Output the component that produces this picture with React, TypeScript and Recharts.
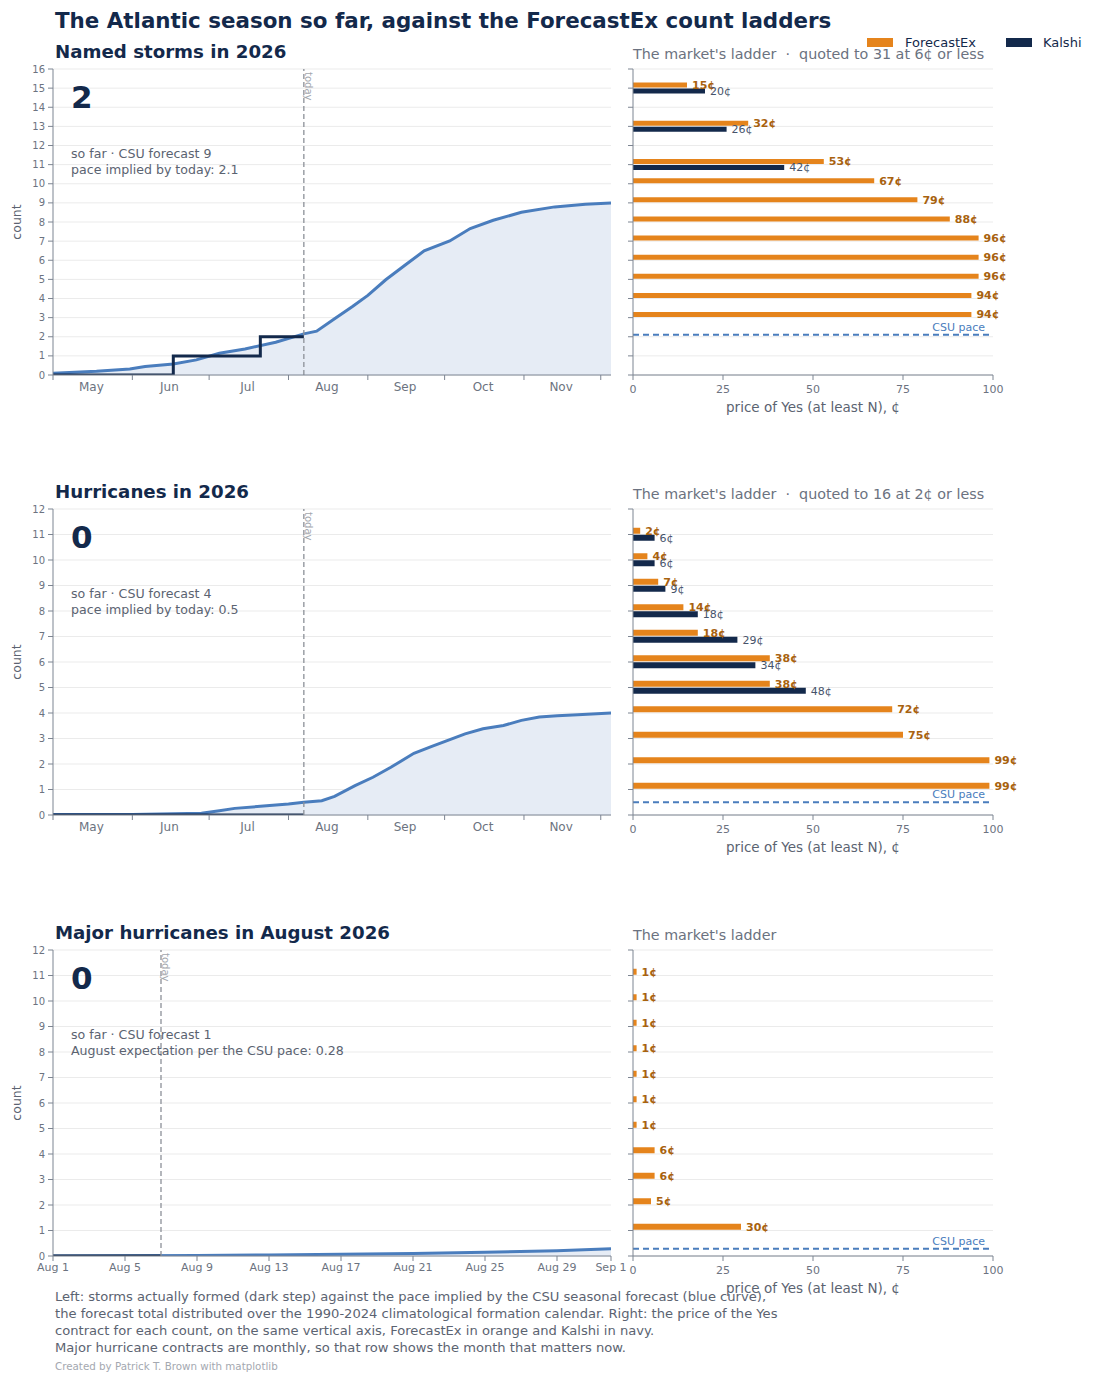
import React from "react";
import {
  ComposedChart,
  BarChart,
  Area,
  Line,
  Bar,
  LabelList,
  XAxis,
  YAxis,
  CartesianGrid,
  ReferenceLine,
} from "recharts";

const FONT = "'DejaVu Sans', Verdana, sans-serif";
const NAVY = "#13294b";
const ORANGE = "#e5841c";
const ORANGE_TEXT = "#a8620f";
const BLUE = "#4a7dbd";
const FILL = "#e6ecf5";
const GRID = "#ebebeb";
const AXIS = "#7d8592";
const TICK = "#6c7380";
const NOTE = "#5b6371";

// season axis: day 0 = May 1
const SEASON_TICKS = [0, 31, 61, 92, 123, 153, 184, 214];
const SEASON_MIDS = [15, 45.5, 76, 107, 137.5, 168, 198.5];
const SEASON_MONTHS = ["May", "Jun", "Jul", "Aug", "Sep", "Oct", "Nov"];
const SEASON_END = 218;
const TODAY_SEASON = 98;

// August axis: day 0 = Aug 1
const AUG_TICKS = [0, 4, 8, 12, 16, 20, 24, 28, 31];
const AUG_LABELS = ["Aug 1", "Aug 5", "Aug 9", "Aug 13", "Aug 17", "Aug 21", "Aug 25", "Aug 29", "Sep 1"];
const TODAY_AUG = 6;

// named storms
const stormDays = [0, 17, 30, 36, 47, 56, 65, 75, 87, 98, 103, 110, 117, 123, 130, 138, 145, 155, 163, 172, 183, 196, 208, 218];
const stormPace = [0.09, 0.19, 0.31, 0.44, 0.58, 0.79, 1.14, 1.36, 1.71, 2.15, 2.29, 2.94, 3.58, 4.16, 4.98, 5.79, 6.49, 7.01, 7.66, 8.09, 8.51, 8.79, 8.93, 9.0];
const stormActualDays = [0, 47, 81, 98];
const stormActual = [0, 1, 2, 2];
const stormCounts = [15, 13, 11, 10, 9, 8, 7, 6, 5, 4, 3];
const stormFx = [15, 32, 53, 67, 79, 88, 96, 96, 96, 94, 94];
const stormKalshi = [20, 26, 42, null, null, null, null, null, null, null, null];

// hurricanes
const hurrDays = [0, 31, 58, 65, 71, 81, 92, 98, 105, 110, 118, 125, 132, 141, 148, 154, 161, 168, 176, 183, 190, 197, 205, 218];
const hurrPace = [0.02, 0.02, 0.07, 0.17, 0.26, 0.34, 0.43, 0.5, 0.56, 0.73, 1.15, 1.48, 1.87, 2.42, 2.69, 2.92, 3.18, 3.38, 3.51, 3.71, 3.84, 3.89, 3.93, 4.0];
const hurrActualDays = [0, 98];
const hurrActual = [0, 0];
const hurrCounts = [11, 10, 9, 8, 7, 6, 5, 4, 3, 2, 1];
const hurrFx = [2, 4, 7, 14, 18, 38, 38, 72, 75, 99, 99];
const hurrKalshi = [6, 6, 9, 18, 29, 34, 48, null, null, null, null];

// major hurricanes, August
const majorDays = [0, 4, 8, 12, 16, 20, 24, 28, 31];
const majorPace = [0.0, 0.01, 0.02, 0.04, 0.07, 0.1, 0.15, 0.21, 0.28];
const majorActualDays = [0, 6];
const majorActual = [0, 0];
const majorCounts = [11, 10, 9, 8, 7, 6, 5, 4, 3, 2, 1];
const majorFx = [1, 1, 1, 1, 1, 1, 1, 6, 6, 5, 30];
const majorKalshi = [null, null, null, null, null, null, null, null, null, null, null];

const FOOTER = [
  "Left: storms actually formed (dark step) against the pace implied by the CSU seasonal forecast (blue curve),",
  "the forecast total distributed over the 1990-2024 climatological formation calendar. Right: the price of the Yes",
  "contract for each count, on the same vertical axis, ForecastEx in orange and Kalshi in navy.",
  "Major hurricane contracts are monthly, so that row shows the month that matters now.",
];

function paceRows(days: number[], pace: number[], actDays: number[], actual: number[]) {
  const map = new Map<number, any>();
  days.forEach((d, i) => map.set(d, { day: d, pace: pace[i] }));
  actDays.forEach((d, i) => {
    const r = map.get(d) || { day: d };
    r.actual = actual[i];
    map.set(d, r);
  });
  return [...map.values()].sort((a, b) => a.day - b.day);
}

function ladderRows(counts: number[], fx: (number | null)[], k: (number | null)[]) {
  return counts.map((n, i) => ({ n, fx: fx[i], k: k[i] }));
}

const range = (n: number) => Array.from({ length: n + 1 }, (_, i) => i);
const cents = (v: any) => (v == null ? "" : `${v}¢`);

const PLOT_W = 558;
const PLOT_H = 306;

// month names sit in the middle of each month, between the tick marks
const MonthTick = (props: any) => {
  const { x, y, payload } = props;
  const i = SEASON_TICKS.indexOf(payload.value);
  if (i < 0 || i >= SEASON_MONTHS.length) return null;
  const shift = ((SEASON_MIDS[i] - payload.value) * PLOT_W) / SEASON_END;
  return (
    <text x={x + shift} y={y} dy={10} textAnchor="middle" fontSize={12} fill={TICK} fontFamily={FONT}>
      {SEASON_MONTHS[i]}
    </text>
  );
};

const TodayLabel = (props: any) => {
  const vb = props.viewBox || {};
  return (
    <text
      transform={`translate(${vb.x + 1},${vb.y + 3}) rotate(90)`}
      fontSize={10}
      fill="#a3a7ae"
      fontFamily={FONT}
    >
      today
    </text>
  );
};

const CsuLabel = (props: any) => {
  const vb = props.viewBox || {};
  return (
    <text x={vb.x + vb.width - 8} y={vb.y - 4} textAnchor="end" fontSize={11} fill={BLUE} fontFamily={FONT}>
      CSU pace
    </text>
  );
};

interface RowProps {
  top: number;
  yMax: number;
  season: boolean;
  rows: any[];
  ladder: any[];
  csu: number;
  barSize: number;
}

function Row({ top, yMax, season, rows, ladder, csu, barSize }: RowProps) {
  const yTicks = range(yMax);
  return (
    <>
      <div style={{ position: "absolute", left: 0, top: top - 10 }}>
        <ComposedChart
          width={53 + PLOT_W + 29}
          height={10 + PLOT_H + 40}
          data={rows}
          margin={{ top: 10, right: 29, bottom: 10, left: 13 }}
        >
          <CartesianGrid vertical={false} stroke={GRID} />
          {season ? (
            <XAxis
              type="number"
              dataKey="day"
              domain={[0, SEASON_END]}
              ticks={SEASON_TICKS}
              interval={0}
              tick={<MonthTick />}
              height={30}
              tickSize={5}
              tickMargin={1}
              stroke={AXIS}
              allowDataOverflow
            />
          ) : (
            <XAxis
              type="number"
              dataKey="day"
              domain={[0, 31]}
              ticks={AUG_TICKS}
              interval={0}
              tickFormatter={(v: number) => AUG_LABELS[AUG_TICKS.indexOf(v)]}
              height={30}
              tickSize={5}
              tickMargin={2}
              stroke={AXIS}
              tick={{ fontSize: 11, fill: TICK, fontFamily: FONT }}
              allowDataOverflow
            />
          )}
          <YAxis
            type="number"
            domain={[0, yMax]}
            ticks={yTicks}
            interval={0}
            width={40}
            tickSize={5}
            tickMargin={3}
            stroke={AXIS}
            tick={{ fontSize: 10, fill: TICK, fontFamily: FONT }}
            allowDataOverflow
          />
          <Area
            dataKey="pace"
            type="linear"
            stroke={BLUE}
            strokeWidth={3}
            fill={FILL}
            fillOpacity={1}
            connectNulls
            dot={false}
            activeDot={false}
            isAnimationActive={false}
          />
          <Line
            dataKey="actual"
            type="stepAfter"
            stroke={NAVY}
            strokeWidth={3}
            connectNulls
            dot={false}
            activeDot={false}
            isAnimationActive={false}
          />
          <ReferenceLine
            x={season ? TODAY_SEASON : TODAY_AUG}
            stroke="#8c9098"
            strokeWidth={1.3}
            strokeDasharray="5 3"
            label={<TodayLabel />}
          />
        </ComposedChart>
      </div>
      <div style={{ position: "absolute", left: 620, top: top - 10 }}>
        <BarChart
          layout="vertical"
          width={473}
          height={10 + PLOT_H + 40}
          data={ladder}
          margin={{ top: 10, right: 100, bottom: 10, left: 3 }}
          barSize={barSize}
          barGap={1}
        >
          <CartesianGrid vertical={false} stroke={GRID} />
          <XAxis
            type="number"
            domain={[0, 100]}
            ticks={[0, 25, 50, 75, 100]}
            interval={0}
            height={30}
            tickSize={5}
            tickMargin={5}
            stroke={AXIS}
            tick={{ fontSize: 11, fill: TICK, fontFamily: FONT }}
          />
          <YAxis
            type="number"
            dataKey="n"
            domain={[0, yMax]}
            ticks={yTicks}
            interval={0}
            reversed
            width={10}
            tickSize={5}
            tickFormatter={() => ""}
            stroke={AXIS}
            allowDataOverflow
          />
          <Bar dataKey="fx" fill={ORANGE} isAnimationActive={false}>
            <LabelList
              dataKey="fx"
              position="right"
              offset={5}
              formatter={cents}
              fill={ORANGE_TEXT}
              fontSize={11}
              fontWeight={700}
              fontFamily={FONT}
            />
          </Bar>
          <Bar dataKey="k" fill={NAVY} isAnimationActive={false}>
            <LabelList
              dataKey="k"
              position="right"
              offset={5}
              formatter={cents}
              fill="#46536a"
              fontSize={11}
              fontFamily={FONT}
            />
          </Bar>
          <ReferenceLine
            y={csu}
            stroke={BLUE}
            strokeWidth={2}
            strokeDasharray="6 4"
            label={<CsuLabel />}
          />
        </BarChart>
      </div>
    </>
  );
}

const ROW_TEXT = [
  {
    top: 69,
    title: "Named storms in 2026",
    big: "2",
    note1: "so far · CSU forecast 9",
    note2: "pace implied by today: 2.1",
    ladder: "The market's ladder  ·  quoted to 31 at 6¢ or less",
  },
  {
    top: 509,
    title: "Hurricanes in 2026",
    big: "0",
    note1: "so far · CSU forecast 4",
    note2: "pace implied by today: 0.5",
    ladder: "The market's ladder  ·  quoted to 16 at 2¢ or less",
  },
  {
    top: 950,
    title: "Major hurricanes in August 2026",
    big: "0",
    note1: "so far · CSU forecast 1",
    note2: "August expectation per the CSU pace: 0.28",
    ladder: "The market's ladder",
  },
];

export default function App() {
  return (
    <div
      style={{
        position: "absolute",
        left: 0,
        top: 0,
        width: 1100,
        height: 1385,
        background: "#fff",
        fontFamily: FONT,
        overflow: "hidden",
      }}
    >
      <Row
        top={69}
        yMax={16}
        season
        rows={paceRows(stormDays, stormPace, stormActualDays, stormActual)}
        ladder={ladderRows(stormCounts, stormFx, stormKalshi)}
        csu={2.1}
        barSize={5}
      />
      <Row
        top={509}
        yMax={12}
        season
        rows={paceRows(hurrDays, hurrPace, hurrActualDays, hurrActual)}
        ladder={ladderRows(hurrCounts, hurrFx, hurrKalshi)}
        csu={0.5}
        barSize={6}
      />
      <Row
        top={950}
        yMax={12}
        season={false}
        rows={paceRows(majorDays, majorPace, majorActualDays, majorActual)}
        ladder={ladderRows(majorCounts, majorFx, majorKalshi)}
        csu={0.28}
        barSize={6}
      />

      <svg
        width={1100}
        height={1385}
        style={{ position: "absolute", left: 0, top: 0, pointerEvents: "none" }}
        fontFamily={FONT}
      >
        <text x={55} y={28} fontSize={21.4} fontWeight={700} fill={NAVY}>
          The Atlantic season so far, against the ForecastEx count ladders
        </text>

        <rect x={867} y={38} width={26} height={9} fill={ORANGE} />
        <text x={905} y={47} fontSize={13} fill={NAVY}>ForecastEx</text>
        <rect x={1006} y={38} width={26} height={9} fill={NAVY} />
        <text x={1043} y={47} fontSize={13} fill={NAVY}>Kalshi</text>

        {ROW_TEXT.map((r) => (
          <g key={r.title}>
            <text x={55} y={r.top - 11} fontSize={18.2} fontWeight={700} fill={NAVY}>
              {r.title}
            </text>
            <text x={633} y={r.top - 10} fontSize={14.3} fill="#6b7280" style={{ whiteSpace: "pre" }}>
              {r.ladder}
            </text>
            <text
              transform={`translate(21,${r.top + 153}) rotate(-90)`}
              textAnchor="middle"
              fontSize={12.5}
              fill={NOTE}
            >
              count
            </text>
            <text x={71} y={r.top + 39} fontSize={31} fontWeight={700} fill={NAVY}>
              {r.big}
            </text>
            <text x={71} y={r.top + 89} fontSize={12.6} fill={NOTE}>
              {r.note1}
            </text>
            <text x={71} y={r.top + 105} fontSize={12.6} fill={NOTE}>
              {r.note2}
            </text>
            <text x={813} y={r.top + PLOT_H + 37} textAnchor="middle" fontSize={13.5} fill={NOTE}>
              price of Yes (at least N), ¢
            </text>
          </g>
        ))}

        {FOOTER.map((line, i) => (
          <text key={i} x={55} y={1301 + i * 17} fontSize={13.1} fill={NOTE}>
            {line}
          </text>
        ))}
        <text x={55} y={1370} fontSize={10.3} fill="#a4a8b0">
          Created by Patrick T. Brown with matplotlib
        </text>
      </svg>
    </div>
  );
}
